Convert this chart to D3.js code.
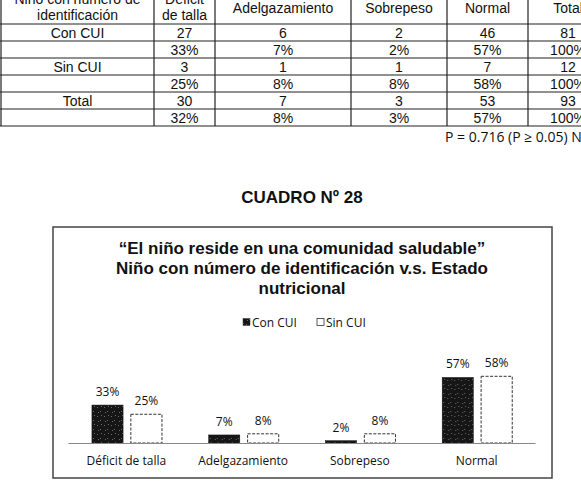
<!DOCTYPE html>
<html>
<head>
<meta charset="utf-8">
<script src="https://cdn.jsdelivr.net/npm/d3@7"></script>
<style>
  body { margin: 0; background: #fff; }
  svg { display: block; }
</style>
</head>
<body>
<svg id="page" width="581" height="484"></svg>
<script>
// table data
const tableHeader = [["Niño con número de", "identificación"], ["Déficit", "de talla"], ["Adelgazamiento"], ["Sobrepeso"], ["Normal"], ["Total"]];
const tableRows = [
  ["Con CUI", "27", "6", "2", "46", "81"],
  ["", "33%", "7%", "2%", "57%", "100%"],
  ["Sin CUI", "3", "1", "1", "7", "12"],
  ["", "25%", "8%", "8%", "58%", "100%"],
  ["Total", "30", "7", "3", "53", "93"],
  ["", "32%", "8%", "3%", "57%", "100%"]
];
const pValueText = "P = 0.716 (P ≥ 0.05) NS";

// chart data
const categories = ["Déficit de talla", "Adelgazamiento", "Sobrepeso", "Normal"];
const seriesNames = ["Con CUI", "Sin CUI"];
const conCui = [0.33, 0.07, 0.02, 0.57];
const sinCui = [0.25, 0.08, 0.08, 0.58];
const titleLines = ["“El niño reside en una comunidad saludable”", "Niño con número de identificación v.s. Estado", "nutricional"];

const svg = d3.select("#page");

// ---- table ----
const colEdges = [1, 154, 215, 351, 447, 528, 608];
const rowEdges = [24, 41, 58, 75, 92, 109, 126];

const table = svg.append("g").attr("class", "table");

colEdges.forEach(x => {
  table.append("line")
    .attr("x1", x).attr("x2", x)
    .attr("y1", -5).attr("y2", 126)
    .attr("stroke", "#222").attr("stroke-width", 1.2);
});
rowEdges.forEach(y => {
  table.append("line")
    .attr("x1", 0).attr("x2", 581)
    .attr("y1", y).attr("y2", y)
    .attr("stroke", "#222").attr("stroke-width", 1.2);
});

const colCenter = i => (colEdges[i] + colEdges[i + 1]) / 2;

tableHeader.forEach((lines, i) => {
  const ys = lines.length === 2 ? [4, 20] : [13];
  lines.forEach((t, j) => {
    table.append("text")
      .attr("x", colCenter(i)).attr("y", ys[j])
      .attr("text-anchor", "middle")
      .style("font", "14px 'Liberation Sans', Arial, sans-serif")
      .style("fill", "#111")
      .text(t);
  });
});

tableRows.forEach((row, r) => {
  row.forEach((t, c) => {
    table.append("text")
      .attr("x", colCenter(c))
      .attr("y", (rowEdges[r] + rowEdges[r + 1]) / 2 + 5)
      .attr("text-anchor", "middle")
      .style("font", "14px 'Liberation Sans', Arial, sans-serif")
      .style("fill", "#111")
      .text(t);
  });
});

svg.append("text")
  .attr("x", 445).attr("y", 142)
  .style("font", "14px 'Open Sans', sans-serif")
  .style("fill", "#111")
  .text(pValueText);

svg.append("text")
  .attr("x", 302).attr("y", 203)
  .attr("text-anchor", "middle")
  .style("font", "bold 17px 'Liberation Sans', Arial, sans-serif")
  .style("fill", "#111")
  .text("CUADRO Nº 28");

// ---- chart box ----
svg.append("rect")
  .attr("x", 53).attr("y", 227)
  .attr("width", 499).attr("height", 251)
  .attr("fill", "#fff")
  .attr("stroke", "#444").attr("stroke-width", 1.5);

// texture for the dark bars
const defs = svg.append("defs");
const pat = defs.append("pattern")
  .attr("id", "dark")
  .attr("width", 7).attr("height", 9)
  .attr("patternUnits", "userSpaceOnUse");
pat.append("rect").attr("width", 7).attr("height", 9).attr("fill", "#161616");
[[1, 2], [4, 6], [5, 1], [2, 7]].forEach(([px, py]) => {
  pat.append("rect").attr("x", px).attr("y", py).attr("width", 1).attr("height", 1).attr("fill", "#6a6a6a");
});

titleLines.forEach((t, i) => {
  svg.append("text")
    .attr("x", 302).attr("y", 254 + i * 20)
    .attr("text-anchor", "middle")
    .style("font", "bold 17px 'Liberation Sans', Arial, sans-serif")
    .style("fill", "#111")
    .text(t);
});

// legend
const legend = svg.append("g").attr("transform", "translate(0,322)");
const legendX = [243, 317];
seriesNames.forEach((name, i) => {
  legend.append("rect")
    .attr("x", legendX[i]).attr("y", -3.5)
    .attr("width", 7).attr("height", 7)
    .attr("fill", i === 0 ? "url(#dark)" : "#fff")
    .attr("stroke", "#333").attr("stroke-width", i === 0 ? 0.5 : 0.8);
  legend.append("text")
    .attr("x", legendX[i] + 9).attr("y", 4.5)
    .style("font", "12px 'Open Sans', sans-serif")
    .style("fill", "#111")
    .text(name);
});

// scales
const x0 = d3.scaleBand().domain(categories).range([68, 535]);
const x1 = d3.scaleBand().domain(seriesNames)
  .range([x0.bandwidth() * 0.205, x0.bandwidth() * 0.805])
  .paddingInner(0.2);
const y = d3.scaleLinear().domain([0, 0.6]).range([443, 374]);

const values = { "Con CUI": conCui, "Sin CUI": sinCui };
const pct = d3.format(".0%");

const groups = svg.append("g").selectAll("g")
  .data(categories)
  .join("g")
  .attr("transform", d => `translate(${x0(d)},0)`);

groups.selectAll("rect")
  .data((d, i) => seriesNames.map(s => ({ s, v: values[s][i] })))
  .join("rect")
  .attr("x", d => x1(d.s))
  .attr("y", d => y(d.v))
  .attr("width", x1.bandwidth())
  .attr("height", d => y(0) - y(d.v))
  .attr("fill", d => d.s === "Con CUI" ? "url(#dark)" : "#fff")
  .attr("stroke", d => d.s === "Con CUI" ? "#111" : "#333")
  .attr("stroke-width", d => d.s === "Con CUI" ? 0.5 : 1)
  .attr("stroke-dasharray", d => d.s === "Con CUI" ? null : "3,1.5");

groups.selectAll("text")
  .data((d, i) => seriesNames.map(s => ({ s, v: values[s][i] })))
  .join("text")
  .attr("x", d => x1(d.s) + x1.bandwidth() / 2)
  .attr("y", d => y(d.v) - 9)
  .attr("text-anchor", "middle")
  .style("font", "12px 'Open Sans', sans-serif")
  .style("fill", "#111")
  .text(d => pct(d.v));

// baseline + category labels
const xAxis = d3.axisBottom(x0).tickSize(0).tickPadding(13);
const axisG = svg.append("g")
  .attr("transform", `translate(0,${y(0)})`)
  .call(xAxis);
axisG.select(".domain").attr("stroke", "#888").attr("stroke-width", 1);
axisG.selectAll("text")
  .style("font", "12px 'Open Sans', sans-serif")
  .style("fill", "#111");
</script>
</body>
</html>
